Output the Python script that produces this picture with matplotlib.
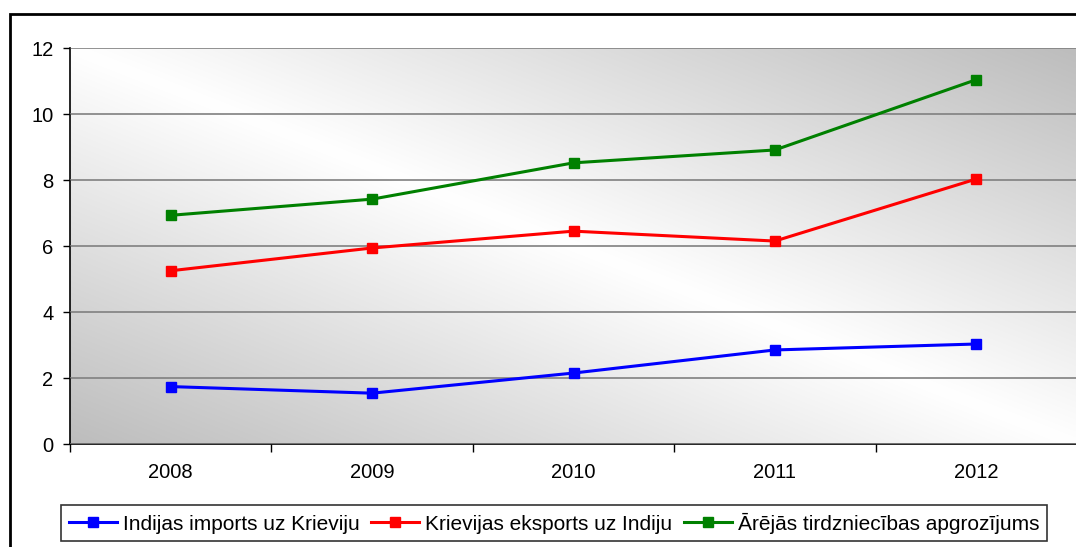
import numpy as np
import matplotlib.pyplot as plt
from matplotlib.patches import Rectangle

plt.rcParams['font.family'] = ['Liberation Sans', 'DejaVu Sans']

years = ['2008', '2009', '2010', '2011', '2012']
imports_ind = [1.74, 1.54, 2.15, 2.85, 3.03]   # Indijas imports uz Krieviju
exports_rus = [5.25, 5.94, 6.45, 6.15, 8.03]   # Krievijas eksports uz Indiju
turnover = [6.93, 7.42, 8.52, 8.91, 11.04]     # Ārējās tirdzniecības apgrozījums

series_names = ['Indijas imports uz Krieviju', 'Krievijas eksports uz Indiju',
                'Ārējās tirdzniecības apgrozījums']
series_colors = ['#0000ff', '#ff0000', '#008000']

W, H = 1076, 547
fig = plt.figure(figsize=(W / 100, H / 100), dpi=100)
ax = fig.add_axes([70 / W, (H - 444) / H, (1077 - 70) / W, (444 - 48) / H])

# outer chart frame (right/bottom edges fall outside the picture)
fig.patches.append(Rectangle((10 / W, -0.05), 1.2, 1 - 14 / H + 0.05,
                             transform=fig.transFigure, fill=False,
                             edgecolor='black', linewidth=2, clip_on=False))

# diagonal gradient: gray at bottom-left and top-right, white through the middle
n = 300
xx, yy = np.meshgrid(np.linspace(0, 1, n), np.linspace(1, 0, n))
t = (xx + yy) / 2
v = 1 - 0.26 * np.abs(2 * t - 1)
ax.imshow(np.dstack([v, v, v]), extent=[0, 1, 0, 1], transform=ax.transAxes,
          aspect='auto', zorder=0, interpolation='bilinear')

x = np.arange(len(years))
for vals, name, col in zip([imports_ind, exports_rus, turnover], series_names, series_colors):
    ax.plot(x, vals, color=col, lw=2.2, marker='s', ms=7, label=name, zorder=3)

ax.set_xlim(-0.5, len(years) - 0.5)
ax.set_ylim(0, 12)
ax.set_yticks(np.arange(0, 13, 2))
ax.yaxis.grid(True, color='#808080', lw=1.2, zorder=1)
ax.set_axisbelow(False)
for gl in ax.get_ygridlines():
    gl.set_zorder(1)

ax.set_xticks(np.arange(-0.5, len(years), 1))
ax.set_xticklabels([])
ax.set_xticks(x, minor=True)
ax.set_xticklabels(years, minor=True)
ax.tick_params(axis='x', which='major', direction='out', length=6, width=1, color='black')
ax.tick_params(axis='x', which='minor', length=0, pad=14, labelsize=14.5)
ax.tick_params(axis='y', direction='out', length=5, width=1, labelsize=14.5, pad=7)

for s in ['top', 'right']:
    ax.spines[s].set_visible(False)
for s in ['left', 'bottom']:
    ax.spines[s].set_color('black')
    ax.spines[s].set_linewidth(1.2)

leg = fig.legend(loc='center', bbox_to_anchor=(554 / W, (H - 523) / H), ncol=3,
                 fontsize=15, frameon=True, fancybox=False, edgecolor='black',
                 handlelength=2.3, handletextpad=0.3, columnspacing=0.55,
                 borderpad=0.35)
leg.get_frame().set_linewidth(1.2)

fig.savefig('out.png', dpi=100)
